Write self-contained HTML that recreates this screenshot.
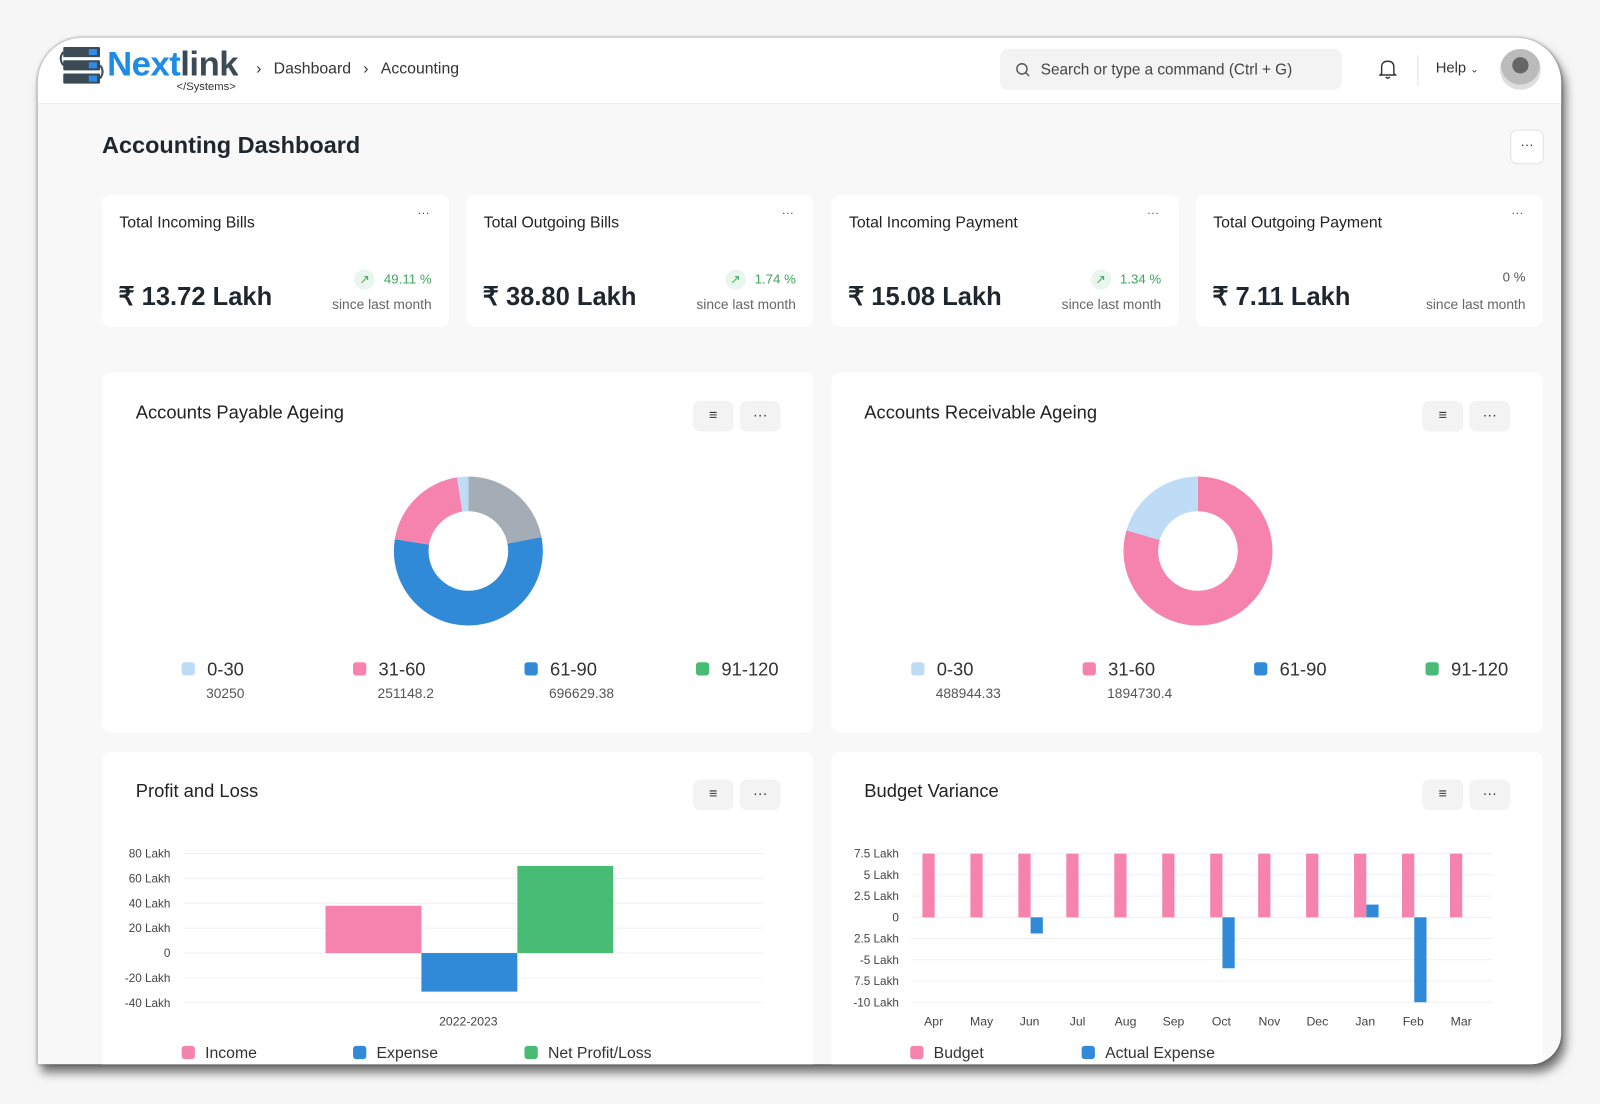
<!DOCTYPE html>
<html><head><meta charset="utf-8">
<style>
*{box-sizing:border-box;margin:0;padding:0}
html,body{width:1600px;height:1104px;overflow:hidden;background:#f6f6f6;font-family:"Liberation Sans",sans-serif;color:#1f272e}
#wrap{position:absolute;left:0;top:0;width:1568px;height:1082px;transform:scale(1.0204);transform-origin:0 0}
#frame{position:absolute;left:37px;top:37px;width:1493px;height:1006px;border-radius:44px 44px 30px 0;background:#f8f8f8;overflow:hidden;box-shadow:4px 8px 10px rgba(0,0,0,.55),0 0 3px rgba(0,0,0,.4)}
.abs{position:absolute}
#header{left:0;top:0;width:1493px;height:65px;background:#fff;border-bottom:1px solid #ececec}
.card{position:absolute;background:#fff;border-radius:8px}
.btn{position:absolute;width:40px;height:30px;background:#f3f3f3;border-radius:7px;text-align:center;line-height:26px;font-size:14px;color:#333}
</style></head><body>
<div id="wrap">
<div id="frame">
 <div id="header" class="abs">
  <div class="abs" style="left:20px;top:8px;width:180px;height:48px">
   <svg width="46" height="40" viewBox="0 0 46 40" style="position:absolute;left:0;top:0">
    <rect x="5" y="1" width="36" height="10" rx="1" fill="#3b4a55"/><rect x="5" y="14" width="36" height="10" rx="1" fill="#3b4a55"/><rect x="5" y="27" width="36" height="10" rx="1" fill="#3b4a55"/>
    <path d="M5 6 Q0 12 5 19 M41 19 Q46 25 41 32" stroke="#3b4a55" stroke-width="2" fill="none"/>
    <rect x="30" y="3" width="8" height="6" fill="#2f8be6"/><rect x="30" y="16" width="8" height="6" fill="#2f8be6"/><rect x="30" y="29" width="8" height="6" fill="#2f8be6"/>
   </svg>
   <div class="abs" style="left:48px;top:-1px;font-size:34px;font-weight:bold;letter-spacing:-0.5px"><span style="color:#1e8be8">Next</span><span style="color:#3b4a55">link</span></div>
   <div class="abs" style="left:116px;top:34px;font-size:11px;color:#333">&lt;/Systems&gt;</div>
  </div>
  <div class="abs" style="left:214px;top:22px;font-size:15.5px;color:#333;white-space:nowrap">
   <span style="margin-right:12px">›</span><span>Dashboard</span><span style="margin:0 12px 0 12px">›</span><span>Accounting</span>
  </div>
  <div class="abs" style="left:943px;top:11px;width:335px;height:40px;background:#f3f3f3;border-radius:8px">
   <svg class="abs" style="left:15px;top:13px" width="15" height="15" viewBox="0 0 15 15"><circle cx="6.5" cy="6.5" r="5" stroke="#555" stroke-width="1.4" fill="none"/><path d="M10 10 L13.5 13.5" stroke="#555" stroke-width="1.4"/></svg>
   <div class="abs" style="left:40px;top:12px;font-size:15px;color:#444;white-space:nowrap">Search or type a command (Ctrl + G)</div>
  </div>
  <svg class="abs" style="left:1314px;top:21px" width="18" height="20" viewBox="0 0 18 20"><path d="M3 14 L3 8 Q3 2 9 2 Q15 2 15 8 L15 14 L16.5 15.5 L1.5 15.5 Z" stroke="#333" stroke-width="1.4" fill="none"/><path d="M7 17.5 Q9 19.5 11 17.5" stroke="#333" stroke-width="1.4" fill="none"/></svg>
  <div class="abs" style="left:1352px;top:17px;width:1px;height:30px;background:#e2e2e2"></div>
  <div class="abs" style="left:1370px;top:22px;font-size:14.5px;color:#333">Help <span style="font-size:10px">⌄</span></div>
  <div class="abs" style="left:1433px;top:11px;width:40px;height:40px;border-radius:50%;background:radial-gradient(circle at 50% 40%,#666 0 25%,#bbb 26% 60%,#ddd 61%)"></div>
 </div>

 <div class="abs" style="left:63px;top:92px;font-size:23px;font-weight:bold">Accounting Dashboard</div>
 <div class="abs" style="left:1443px;top:90px;width:33px;height:34px;border:1px solid #e2e2e2;background:#fff;border-radius:7px;text-align:center;line-height:28px;font-size:13px">···</div>

 <div id="cards"></div>

 <div class="card" style="left:63px;top:328px;width:697px;height:353px">
  <div class="abs" style="left:33px;top:29px;font-size:18px;color:#222">Accounts Payable Ageing</div>
  <div class="btn" style="left:579px;top:28px">≡</div>
  <div class="btn" style="left:625px;top:28px">···</div>
  <svg class="abs" id="donut1" style="left:0;top:0" width="697" height="353"></svg>
 </div>
 <div class="card" style="left:778px;top:328px;width:697px;height:353px">
  <div class="abs" style="left:32px;top:29px;font-size:18px;color:#222">Accounts Receivable Ageing</div>
  <div class="btn" style="left:579px;top:28px">≡</div>
  <div class="btn" style="left:625px;top:28px">···</div>
  <svg class="abs" id="donut2" style="left:0;top:0" width="697" height="353"></svg>
 </div>

 <div class="card" style="left:63px;top:700px;width:697px;height:340px">
  <div class="abs" style="left:33px;top:28px;font-size:18px;color:#222">Profit and Loss</div>
  <div class="btn" style="left:579px;top:27px">≡</div>
  <div class="btn" style="left:625px;top:27px">···</div>
 </div>
 <div class="card" style="left:778px;top:700px;width:697px;height:340px">
  <div class="abs" style="left:32px;top:28px;font-size:18px;color:#222">Budget Variance</div>
  <div class="btn" style="left:579px;top:27px">≡</div>
  <div class="btn" style="left:625px;top:27px">···</div>
 </div>
 <svg class="abs" id="bottom" style="left:0;top:0" width="1493" height="1006"></svg>
</div>
</div>
<script>
const kpiTitles=["Total Incoming Bills","Total Outgoing Bills","Total Incoming Payment","Total Outgoing Payment"];
const kpiValues=["₹ 13.72 Lakh","₹ 38.80 Lakh","₹ 15.08 Lakh","₹ 7.11 Lakh"];
const kpiChange=["49.11 %","1.74 %","1.34 %","0 %"];
const kpiUp=[true,true,true,false];

const ageLabels=["0-30","31-60","61-90","91-120","120+"];
const ageColors=["#bfdcf6","#f683ae","#318ad8","#48bb74","#a4adb5"];
const payableValues=[30250,251148.2,696629.38,0,276000];
const receivableValues=[488944.33,1894730.4,0,0,0];
const payableOrder=[4,2,1,0,3];
const receivableOrder=[1,0,2,3,4];

const plCategories=["2022-2023"];
const plSeries=["Income","Expense","Net Profit/Loss"];
const plValues=[38,-31,70];
const plTicks=[80,60,40,20,0,-20,-40];
const plTickLabels=["80 Lakh","60 Lakh","40 Lakh","20 Lakh","0","-20 Lakh","-40 Lakh"];

const bvMonths=["Apr","May","Jun","Jul","Aug","Sep","Oct","Nov","Dec","Jan","Feb","Mar"];
const bvBudget=[7.5,7.5,7.5,7.5,7.5,7.5,7.5,7.5,7.5,7.5,7.5,7.5];
const bvActual=[0,0,-1.9,0,0,0,-6,0,0,1.5,-10,0];
const bvTicks=[7.5,5,2.5,0,-2.5,-5,-7.5,-10];
const bvTickLabels=["7.5 Lakh","5 Lakh","2.5 Lakh","0","2.5 Lakh","-5 Lakh","7.5 Lakh","-10 Lakh"];

const NS="http://www.w3.org/2000/svg";
function mk(parent,tag,attrs,text){const e=document.createElementNS(NS,tag);for(const k in attrs)e.setAttribute(k,attrs[k]);if(text!==undefined)e.textContent=text;parent.appendChild(e);return e;}

const frame=document.getElementById('frame');
const cardX=[63,420,778,1135];
kpiTitles.forEach((t,i)=>{
 const c=document.createElement('div');
 c.className='card';
 
 
 c.style.cssText=`left:${cardX[i]}px;top:154px;width:340px;height:129px`;
 c.innerHTML=`<div class="abs" style="left:17px;top:19px;font-size:15.5px;color:#222">${t}</div>
 <div class="abs" style="left:309px;top:10px;font-size:12px;color:#555">···</div>
 <div class="abs" style="left:16px;top:85px;font-size:25px;font-weight:bold;color:#1f272e;white-space:nowrap">${kpiValues[i]}</div>
 <div class="abs" style="right:17px;top:73px;font-size:13px;color:${kpiUp[i]?'#3ea55f':'#555'};white-space:nowrap">${kpiUp[i]?'<span style="display:inline-block;width:20px;height:20px;border-radius:50%;background:#e9f6ee;text-align:center;line-height:20px;margin-right:9px;font-size:12px">↗</span>':''}${kpiChange[i]}</div>
 <div class="abs" style="right:17px;top:100px;font-size:13.5px;color:#666;white-space:nowrap">since last month</div>`;
 frame.insertBefore(c,document.getElementById('cards'));
});

function donut(svgId,values,order,cx,cy,ro,ri){
 const svg=document.getElementById(svgId);
 const total=values.reduce((a,b)=>a+b,0);
 let ang=0;
 order.forEach(i=>{
  const v=values[i]; if(!v) return;
  const a0=ang, a1=ang+v/total*2*Math.PI; ang=a1;
  const p=(r,a)=>[cx+r*Math.sin(a),cy-r*Math.cos(a)];
  const large=(a1-a0)>Math.PI?1:0;
  const [x0,y0]=p(ro,a0),[x1,y1]=p(ro,a1),[x2,y2]=p(ri,a1),[x3,y3]=p(ri,a0);
  const s=mk(svg,'path',{d:`M${x0} ${y0} A${ro} ${ro} 0 ${large} 1 ${x1} ${y1} L${x2} ${y2} A${ri} ${ri} 0 ${large} 0 ${x3} ${y3} Z`,fill:ageColors[i]});
  
  
 });
 for(let i=0;i<4;i++){
  const lx=85+i*168;
  const r=mk(svg,'rect',{x:lx-7,y:284,width:13,height:13,rx:3,fill:ageColors[i]});
  
  
  const t=mk(svg,'text',{x:lx+18,y:297,'font-size':18,fill:'#333','font-family':'Liberation Sans'},ageLabels[i]);
  
  
  if(values[i]){
   const vt=mk(svg,'text',{x:lx+17,y:319,'font-size':13.5,fill:'#555','font-family':'Liberation Sans'},String(values[i]));
   
   
  }
 }
}
donut('donut1',payableValues,payableOrder,359,175,73,39);
donut('donut2',receivableValues,receivableOrder,359,175,73,39);

const B=document.getElementById('bottom');
const plY=v=>897-v*(24.4/20);
plTicks.forEach((t,i)=>{
 const g=mk(B,'line',{x1:143,x2:711,y1:plY(t),y2:plY(t),stroke:'#f0f0f0'});
 
 
 const l=mk(B,'text',{x:130,y:plY(t)+4,'text-anchor':'end','font-size':11.5,fill:'#444','font-family':'Liberation Sans'},plTickLabels[i]);
 
 
});
const plColors=["#f683ae","#318ad8","#48bb74"];
const plBarW=94, plX0=282;
plValues.forEach((v,i)=>{
 const y0=plY(0),y1=plY(v);
 const r=mk(B,'rect',{x:plX0+i*plBarW,y:Math.min(y0,y1),width:plBarW,height:Math.abs(y1-y0),fill:plColors[i]});
 
 
});
const plx=mk(B,'text',{x:422,y:968,'text-anchor':'middle','font-size':12,fill:'#444','font-family':'Liberation Sans'},plCategories[0]);


plSeries.forEach((s,i)=>{
 const lx=148+i*168;
 const r=mk(B,'rect',{x:lx-7,y:988,width:13,height:13,rx:3,fill:plColors[i]});
 
 
 const t=mk(B,'text',{x:lx+16,y:1000,'font-size':15.5,fill:'#333','font-family':'Liberation Sans'},s);
 
 
});

const bvY=v=>862-v*(20.8/2.5);
const bvX=i=>878+i*47;
bvTicks.forEach((t,i)=>{
 const g=mk(B,'line',{x1:856,x2:1425,y1:bvY(t),y2:bvY(t),stroke:'#f0f0f0'});
 
 
 const l=mk(B,'text',{x:844,y:bvY(t)+4,'text-anchor':'end','font-size':11.5,fill:'#444','font-family':'Liberation Sans'},bvTickLabels[i]);
 
 
});
bvMonths.forEach((m,i)=>{
 const cx=bvX(i);
 const b=bvBudget[i];
 const r=mk(B,'rect',{x:cx-11,y:Math.min(bvY(0),bvY(b)),width:12,height:Math.abs(bvY(b)-bvY(0)),fill:'#f683ae'});
 
 
 const a=bvActual[i];
 if(a){const r2=mk(B,'rect',{x:cx+1,y:Math.min(bvY(0),bvY(a)),width:12,height:Math.abs(bvY(a)-bvY(0)),fill:'#318ad8'});
  
  }
 const t=mk(B,'text',{x:cx,y:968,'text-anchor':'middle','font-size':12,fill:'#444','font-family':'Liberation Sans'},m);
 
 
});
[["Budget","#f683ae"],["Actual Expense","#318ad8"]].forEach(([s,c],i)=>{
 const lx=862+i*168;
 const r=mk(B,'rect',{x:lx-7,y:988,width:13,height:13,rx:3,fill:c});
 
 
 const t=mk(B,'text',{x:lx+16,y:1000,'font-size':15.5,fill:'#333','font-family':'Liberation Sans'},s);
 
 
});
</script>
</body></html>
